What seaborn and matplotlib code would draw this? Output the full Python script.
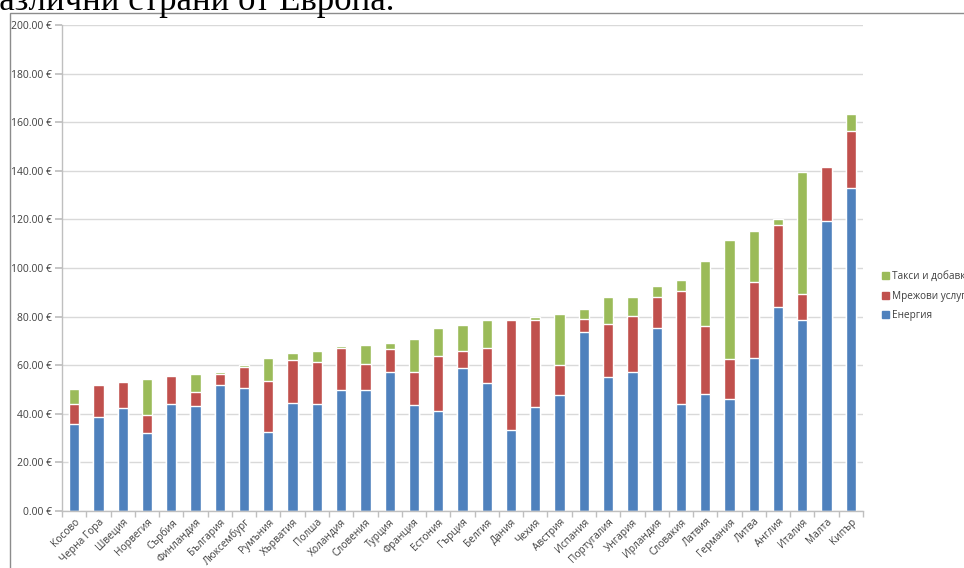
import numpy as np
import pandas as pd
import matplotlib
matplotlib.use("Agg")
import matplotlib.pyplot as plt
from matplotlib.patches import Rectangle
from matplotlib.ticker import FuncFormatter, FixedLocator
import seaborn as sns

countries = ['Косово', 'Черна Гора', 'Швеция', 'Норвегия', 'Сърбия', 'Финландия',
             'България', 'Люксембург', 'Румъния', 'Хърватия', 'Полша', 'Холандия',
             'Словения', 'Турция', 'Франция', 'Естония', 'Гърция', 'Белгия', 'Дания',
             'Чехия', 'Австрия', 'Испания', 'Португалия', 'Унгария', 'Ирландия',
             'Словакия', 'Латвия', 'Германия', 'Литва', 'Англия', 'Италия', 'Малта', 'Кипър']
energy = [35.6, 38.8, 42.2, 32.1, 44.1, 43.2, 51.9, 50.6, 32.6, 44.3, 44.0, 49.8,
          49.9, 57.3, 43.5, 41.3, 58.9, 52.6, 33.4, 42.6, 47.6, 73.7, 55.2, 57.2,
          75.5, 44.1, 48.2, 46.1, 63.0, 84.0, 78.8, 119.4, 133.1]
network = [8.4, 13.0, 10.7, 7.5, 11.3, 5.9, 4.4, 8.5, 20.7, 17.8, 17.3, 17.4,
           10.7, 9.2, 13.8, 22.6, 6.9, 14.6, 45.0, 36.2, 12.3, 5.5, 21.7, 23.1,
           12.6, 46.5, 28.0, 16.5, 31.3, 33.5, 10.5, 22.0, 23.1]
taxes = [6.4, 0.2, 0.6, 14.8, 0.5, 7.1, 1.1, 0.8, 9.6, 3.1, 4.6, 0.5,
         7.9, 2.5, 13.3, 11.6, 10.6, 11.2, 0.4, 1.1, 21.0, 4.0, 11.1, 7.7,
         4.5, 4.4, 26.7, 49.0, 21.1, 2.8, 50.2, 0.0, 7.3]

df = pd.DataFrame({'country': countries, 'energy': energy,
                   'network': network, 'taxes': taxes})
df['red_top'] = df['energy'] + df['network']
df['green_top'] = df['red_top'] + df['taxes']

BLUE, RED, GREEN = '#4F81BD', '#C0504D', '#9BBB59'

sns.set_theme(style='white')
plt.rcParams['font.family'] = ['Open Sans', 'DejaVu Sans']

W, H = 964, 568
fig = plt.figure(figsize=(W / 100, H / 100), dpi=100)

# chart frame (Excel-like border)
fig.patches.append(Rectangle((10 / W, -0.1), 1.0, (H - 12.5) / H + 0.1,
                             transform=fig.transFigure, fill=False,
                             edgecolor='#8c8c8c', linewidth=1.0))

# clipped caption text on top
fig.text(-18 / W, 1 - 10 / H, 'различни страни от Европа.', fontsize=25,
         family='Liberation Serif', va='baseline', ha='left', color='black')

ax = fig.add_axes([62 / W, (H - 511) / H, (863 - 62) / W, (511 - 25) / H])

sns.barplot(data=df, x='country', y='green_top', color=GREEN, width=0.42,
            saturation=1, ax=ax)
sns.barplot(data=df, x='country', y='red_top', color=RED, width=0.42,
            saturation=1, ax=ax)
sns.barplot(data=df, x='country', y='energy', color=BLUE, width=0.42,
            saturation=1, ax=ax)

ax.set_xlim(-0.5, len(countries) - 0.5)
ax.set_ylim(0, 200)
ax.set_yticks(np.arange(0, 201, 20))
ax.yaxis.set_major_formatter(FuncFormatter(lambda v, p: f'{v:.2f} €'))
ax.grid(axis='y', color='#d9d9d9', linewidth=1.0)
ax.set_axisbelow(True)
ax.set_xlabel('')
ax.set_ylabel('')

for s in ['top', 'right']:
    ax.spines[s].set_visible(False)
for s in ['left', 'bottom']:
    ax.spines[s].set_color('#bfbfbf')
    ax.spines[s].set_linewidth(1.0)

ax.tick_params(axis='y', which='major', length=5, color='#bfbfbf',
               labelsize=7.5, labelcolor='#404040', pad=2, left=True)
ax.tick_params(axis='x', which='major', length=0, labelsize=7.3,
               labelcolor='#404040', pad=4)
ax.xaxis.set_minor_locator(FixedLocator(np.arange(-0.5, len(countries), 1.0)))
ax.tick_params(axis='x', which='minor', length=4, color='#bfbfbf', bottom=True)
for lab in ax.get_xticklabels():
    lab.set_rotation(45)
    lab.set_ha('right')
    lab.set_rotation_mode('anchor')

# legend
handles = [Rectangle((0, 0), 1, 1, color=GREEN),
           Rectangle((0, 0), 1, 1, color=RED),
           Rectangle((0, 0), 1, 1, color=BLUE)]
fig.legend(handles, ['Такси и добавки', 'Мрежови услуги', 'Енергия'],
           loc='upper left', bbox_to_anchor=(878 / W, 1 - 267 / H),
           frameon=False, fontsize=7.2, handlelength=0.7, handleheight=0.7,
           handletextpad=0.3, labelspacing=0.85, labelcolor='#404040',
           borderaxespad=0)

fig.savefig('out.png', dpi=100)
